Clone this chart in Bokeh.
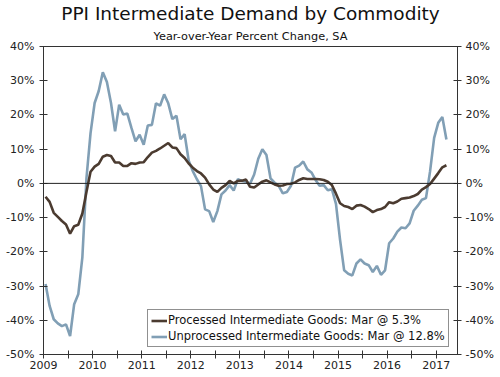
from bokeh.plotting import figure
from bokeh.models import (Range1d, LinearAxis, FixedTicker, PrintfTickFormatter,
                          Span, Title, Legend, LegendItem, ColumnDataSource)
from bokeh.embed import file_html
from bokeh.resources import INLINE

# ---- data (monthly, Jan 2009 .. Mar 2017, YoY % change) ----
start_year = 2009
processed = [
    -3.9, -5.4, -8.6, -9.8, -11.0, -12.0, -14.7, -12.5, -12.1, -8.8, -2.5, 3.4,   # 2009
    4.9, 5.7, 7.8, 8.3, 8.0, 6.1, 6.1, 5.1, 5.1, 5.9, 5.7, 6.1,                 # 2010
    6.2, 7.7, 9.0, 9.5, 10.2, 11.0, 11.8, 10.5, 10.3, 8.5, 7.4, 5.8,            # 2011
    4.6, 3.6, 2.9, 1.7, -0.3, -1.8, -2.5, -1.3, -0.5, 0.7, 0.0, 0.7,            # 2012
    0.8, 1.1, -1.0, -1.2, -0.3, 0.5, 0.9, 0.3, -0.3, -0.7, -0.6, -0.2,          # 2013
    -0.1, 0.3, 1.0, 1.5, 1.3, 1.3, 1.3, 1.2, 1.0, 0.5, -0.5, -3.0,              # 2014
    -5.8, -6.6, -6.9, -7.5, -6.5, -6.3, -6.8, -7.5, -8.4, -7.8, -7.5, -6.9,     # 2015
    -5.5, -5.8, -5.3, -4.5, -4.3, -4.1, -3.7, -3.1, -1.8, -1.1, -0.2, 1.4,      # 2016
    3.0, 4.7, 5.3,                                                              # 2017
]
unprocessed = [
    -29.4, -35.8, -39.7, -40.9, -41.7, -41.2, -44.6, -35.3, -32.4, -21.6, 1.5, 14.7,   # 2009
    23.5, 27.0, 32.5, 29.6, 23.5, 15.2, 23.0, 20.1, 20.4, 16.2, 12.3, 14.2,           # 2010
    11.3, 16.9, 17.1, 23.4, 22.7, 26.0, 23.4, 18.8, 19.8, 12.9, 14.4, 6.6,            # 2011
    3.6, 1.2, -0.8, -7.6, -8.1, -11.3, -8.1, -3.2, -2.1, -0.5, -2.1, 1.2,             # 2012
    0.7, 0.5, -0.1, 2.6, 7.2, 10.0, 8.3, 1.5, 0.2, -0.7, -2.9, -2.5,                  # 2013
    -0.7, 4.6, 5.2, 6.4, 4.1, 3.2, 1.0, -0.7, -0.5, -2.0, -1.7, -6.0,                 # 2014
    -16.5, -25.4, -26.4, -26.9, -23.4, -22.2, -23.4, -23.9, -25.9, -24.1, -26.7, -25.4,  # 2015
    -17.5, -16.1, -14.1, -12.9, -13.1, -11.7, -8.0, -6.5, -4.8, -4.3, 3.5, 13.3,      # 2016
    17.7, 19.4, 12.8,                                                                 # 2017
]
year_ticks = [2009, 2010, 2011, 2012, 2013, 2014, 2015, 2016, 2017]
half_year_ticks = [2009.5, 2010.5, 2011.5, 2012.5, 2013.5, 2014.5, 2015.5, 2016.5]
y_ticks = [-50, -40, -30, -20, -10, 0, 10, 20, 30, 40]
label_processed = "Processed Intermediate Goods: Mar @ 5.3%"
label_unprocessed = "Unprocessed Intermediate Goods: Mar @ 12.8%"
title_text = "PPI Intermediate Demand by Commodity"
subtitle_text = "Year-over-Year Percent Change, SA"

x = [start_year + (i + 0.5) / 12 for i in range(len(processed))]
src = ColumnDataSource(dict(x=x, proc=processed, unproc=unprocessed))

BROWN = "#4b3b30"
BLUE = "#819fb5"
AXC = "#333333"
FONT = "DejaVu Sans"

p = figure(width=500, height=377, output_backend="svg", toolbar_location=None,
           title=None, x_range=Range1d(2009, 2017.434), y_range=Range1d(-50, 40),
           min_border_left=43, min_border_right=43, min_border_top=0,
           min_border_bottom=23)
p.background_fill_color = "white"
p.border_fill_color = "white"
p.outline_line_color = AXC
p.outline_line_width = 1
p.xgrid.visible = False
p.ygrid.visible = False

def style_axis(ax):
    ax.axis_line_color = AXC
    ax.axis_line_width = 1
    ax.major_tick_line_color = AXC
    ax.minor_tick_line_color = AXC
    ax.major_tick_in = 4
    ax.major_tick_out = 4
    ax.minor_tick_in = 4
    ax.minor_tick_out = 4
    ax.major_label_text_font = FONT
    ax.major_label_text_font_size = "11px"
    ax.major_label_text_color = "#222222"

# x axis
xa = p.xaxis[0]
xa.ticker = FixedTicker(ticks=year_ticks, minor_ticks=half_year_ticks)
xa.major_label_overrides = {y: str(y) for y in year_ticks}
style_axis(xa)
xa.major_label_standoff = 2

# left y axis
ya = p.yaxis[0]
ya.ticker = FixedTicker(ticks=y_ticks, minor_ticks=[])
ya.formatter = PrintfTickFormatter(format="%d%%")
style_axis(ya)
ya.major_label_standoff = 5

# right y axis
yr = LinearAxis(ticker=FixedTicker(ticks=y_ticks, minor_ticks=[]),
                formatter=PrintfTickFormatter(format="%d%%"))
style_axis(yr)
yr.major_label_standoff = 4
p.add_layout(yr, "right")

# zero line
p.add_layout(Span(location=0, dimension="width", line_color="#222222", line_width=1))

r_u = p.line("x", "unproc", source=src, line_color=BLUE, line_width=2.6)
r_p = p.line("x", "proc", source=src, line_color=BROWN, line_width=2.6)

legend = Legend(items=[LegendItem(label=label_processed, renderers=[r_p]),
                       LegendItem(label=label_unprocessed, renderers=[r_u])],
                location=(104, 7), orientation="vertical")
legend.border_line_color = "#222222"
legend.border_line_width = 1
legend.background_fill_color = "white"
legend.background_fill_alpha = 1
legend.label_text_font = FONT
legend.label_text_font_size = "11.5px"
legend.label_text_color = "#111111"
legend.glyph_width = 16
legend.glyph_height = 13
legend.label_height = 13
legend.label_standoff = 1
legend.padding = 3
legend.spacing = 2
legend.margin = 0
p.add_layout(legend)

# title and subtitle (subtitle first = nearest to the plot)
p.add_layout(Title(text=subtitle_text, align="center", text_font=FONT,
                   text_font_size="11.3px", text_font_style="normal",
                   text_color="#111111", standoff=8), "above")
p.add_layout(Title(text=title_text, align="center", text_font=FONT,
                   text_font_size="18.5px", text_font_style="normal",
                   text_color="#111111", standoff=0, offset=0), "above")

open("out.html", "w").write(file_html(p, INLINE))
